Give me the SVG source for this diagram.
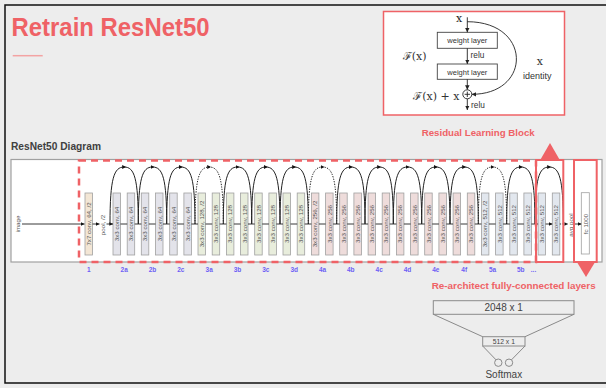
<svg xmlns="http://www.w3.org/2000/svg" width="606" height="388" viewBox="0 0 606 388">
<style>
.sans{font-family:"Liberation Sans",Arial,sans-serif}
.serif{font-family:"DejaVu Serif","Liberation Serif",serif}
.red{fill:#ef6266}
.bx{stroke:#a0a0a0;stroke-width:0.8}
.b1{fill:#f3e6d5}.b2{fill:#e3e3ea}.b3{fill:#e8eddc}.b4{fill:#eedcdb}.b5{fill:#e2e7ee}
.bt{font-family:"Liberation Sans",Arial,sans-serif;font-size:6.2px;fill:#555;text-anchor:middle}
.lb{font-family:"Liberation Sans",Arial,sans-serif;font-size:6.5px;font-weight:bold;fill:#6d5ff5;text-anchor:middle}
.ln{stroke:#222;stroke-width:0.9;fill:none}
.arc{stroke:#222;stroke-width:1;fill:none;marker-mid:url(#ahm)}
.dot{stroke-dasharray:1.3 1.3}
.rs{fill:none;stroke:#ef6266}
.gl{stroke:#8a8a8a;stroke-width:1;fill:none}
</style>
<defs>
<marker id="ah" viewBox="0 0 6 6" refX="6" refY="3" markerWidth="3.6" markerHeight="3.6" markerUnits="userSpaceOnUse" orient="auto"><path d="M0,0L6,3L0,6z" fill="#111"/></marker>
<marker id="ahm" viewBox="0 0 6 6" refX="3" refY="3" markerWidth="4" markerHeight="4" markerUnits="userSpaceOnUse" orient="auto"><path d="M0,0L6,3L0,6z" fill="#111"/></marker>
<marker id="ah2" viewBox="0 0 6 6" refX="6" refY="3" markerWidth="4.5" markerHeight="4.5" markerUnits="userSpaceOnUse" orient="auto"><path d="M0,0L6,3L0,6z" fill="#222"/></marker>
</defs>
<rect width="606" height="388" fill="#ededed"/>
<path d="M606 5H5V383H606" fill="none" stroke="#111" stroke-width="1.5"/>

<g id="title">
<text x="11.5" y="36" class="sans red" font-size="25" font-weight="bold" textLength="198" lengthAdjust="spacingAndGlyphs">Retrain ResNet50</text>
<line x1="12.7" y1="55.7" x2="42.7" y2="55.7" stroke="#f3a3a3" stroke-width="1.5"/>
</g>

<g id="residual-block">
<rect x="383.5" y="11.5" width="181" height="103.5" fill="#fff" stroke="#ef6266" stroke-width="1.5"/>
<text x="456" y="22" class="serif" font-size="11" fill="#222">x</text>
<rect x="437.3" y="32.3" width="60" height="16" fill="#fff" stroke="#444" stroke-width="0.9"/>
<text x="467.3" y="43.3" class="sans" font-size="8" fill="#333" text-anchor="middle" textLength="40" lengthAdjust="spacingAndGlyphs">weight layer</text>
<rect x="437.3" y="64" width="60" height="15.3" fill="#fff" stroke="#444" stroke-width="0.9"/>
<text x="467.3" y="74.6" class="sans" font-size="8" fill="#333" text-anchor="middle" textLength="40" lengthAdjust="spacingAndGlyphs">weight layer</text>
<line x1="467.3" y1="17.3" x2="467.3" y2="32.3" class="ln" marker-end="url(#ah2)"/>
<line x1="467.3" y1="48.3" x2="467.3" y2="64" class="ln" marker-end="url(#ah2)"/>
<line x1="467.3" y1="79.3" x2="467.3" y2="89.8" class="ln" marker-end="url(#ah2)"/>
<line x1="467.3" y1="98.8" x2="467.3" y2="110" class="ln" marker-end="url(#ah2)"/>
<path d="M467.3 21.7C532 21.7 532 94.3 471.8 94.3" class="ln" marker-end="url(#ah2)"/>
<circle cx="467.3" cy="94.3" r="4.5" fill="#fff" stroke="#222" stroke-width="0.9"/>
<path d="M464.6 94.3H470M467.3 91.6V97" stroke="#222" stroke-width="0.9"/>
<text x="470.6" y="58" class="sans" font-size="8.3" fill="#333">relu</text>
<text x="471" y="108.3" class="sans" font-size="8.3" fill="#333">relu</text>
<text x="402.7" y="60" class="serif" font-size="11" fill="#333">ℱ(x)</text>
<text x="413.3" y="100" class="serif" font-size="11" fill="#333">ℱ(x) + x</text>
<text x="536.7" y="65" class="serif" font-size="11" fill="#333">x</text>
<text x="523" y="79" class="sans" font-size="9" fill="#333">identity</text>
<text x="421.7" y="135.7" class="sans red" font-size="9.8" font-weight="bold" textLength="113" lengthAdjust="spacingAndGlyphs">Residual Learning Block</text>
</g>

<text x="11" y="150" class="sans" font-size="10.6" font-weight="bold" fill="#404040" textLength="90" lengthAdjust="spacingAndGlyphs">ResNet50 Diagram</text>

<rect x="11" y="159.5" width="591" height="102.5" fill="#fff" stroke="#a0a0a0" stroke-width="1.2"/>

<g id="input"><text class="bt" font-size="5" transform="translate(19.5,224) rotate(-90)">image</text></g>
<g id="conv1"><rect x="85" y="193" width="7.5" height="62" class="bx b1"/><text class="bt" transform="translate(90.9,224) rotate(-90)">7x7 conv, 64, /2</text></g>
<g id="pool"><text class="bt" font-size="5.5" transform="translate(104.8,225) rotate(-90)">pool, /2</text></g>

<g id="layer2">
<g id="c0"><rect x="113" y="193" width="7.5" height="62" class="bx b2"/><text class="bt" transform="translate(119,224) rotate(-90)">3x3 conv, 64</text></g>
<g id="c1"><rect x="127.2" y="193" width="7.5" height="62" class="bx b2"/><text class="bt" transform="translate(133.2,224) rotate(-90)">3x3 conv, 64</text></g>
<g id="c2"><rect x="141.3" y="193" width="7.5" height="62" class="bx b2"/><text class="bt" transform="translate(147.3,224) rotate(-90)">3x3 conv, 64</text></g>
<g id="c3"><rect x="155.5" y="193" width="7.5" height="62" class="bx b2"/><text class="bt" transform="translate(161.5,224) rotate(-90)">3x3 conv, 64</text></g>
<g id="c4"><rect x="169.7" y="193" width="7.5" height="62" class="bx b2"/><text class="bt" transform="translate(175.7,224) rotate(-90)">3x3 conv, 64</text></g>
<g id="c5"><rect x="183.9" y="193" width="7.5" height="62" class="bx b2"/><text class="bt" transform="translate(189.9,224) rotate(-90)">3x3 conv, 64</text></g>
</g>
<g id="layer3">
<g id="c6"><rect x="198" y="193" width="7.5" height="62" class="bx b3"/><text class="bt" transform="translate(204,224) rotate(-90)">3x3 conv, 128, /2</text></g>
<g id="c7"><rect x="212.2" y="193" width="7.5" height="62" class="bx b3"/><text class="bt" transform="translate(218.2,224) rotate(-90)">3x3 conv, 128</text></g>
<g id="c8"><rect x="226.4" y="193" width="7.5" height="62" class="bx b3"/><text class="bt" transform="translate(232.4,224) rotate(-90)">3x3 conv, 128</text></g>
<g id="c9"><rect x="240.5" y="193" width="7.5" height="62" class="bx b3"/><text class="bt" transform="translate(246.5,224) rotate(-90)">3x3 conv, 128</text></g>
<g id="c10"><rect x="254.7" y="193" width="7.5" height="62" class="bx b3"/><text class="bt" transform="translate(260.7,224) rotate(-90)">3x3 conv, 128</text></g>
<g id="c11"><rect x="268.9" y="193" width="7.5" height="62" class="bx b3"/><text class="bt" transform="translate(274.9,224) rotate(-90)">3x3 conv, 128</text></g>
<g id="c12"><rect x="283" y="193" width="7.5" height="62" class="bx b3"/><text class="bt" transform="translate(289,224) rotate(-90)">3x3 conv, 128</text></g>
<g id="c13"><rect x="297.2" y="193" width="7.5" height="62" class="bx b3"/><text class="bt" transform="translate(303.2,224) rotate(-90)">3x3 conv, 128</text></g>
</g>
<g id="layer4">
<g id="c14"><rect x="311.4" y="193" width="7.5" height="62" class="bx b4"/><text class="bt" transform="translate(317.4,224) rotate(-90)">3x3 conv, 256, /2</text></g>
<g id="c15"><rect x="325.6" y="193" width="7.5" height="62" class="bx b4"/><text class="bt" transform="translate(331.6,224) rotate(-90)">3x3 conv, 256</text></g>
<g id="c16"><rect x="339.7" y="193" width="7.5" height="62" class="bx b4"/><text class="bt" transform="translate(345.7,224) rotate(-90)">3x3 conv, 256</text></g>
<g id="c17"><rect x="353.9" y="193" width="7.5" height="62" class="bx b4"/><text class="bt" transform="translate(359.9,224) rotate(-90)">3x3 conv, 256</text></g>
<g id="c18"><rect x="368.1" y="193" width="7.5" height="62" class="bx b4"/><text class="bt" transform="translate(374.1,224) rotate(-90)">3x3 conv, 256</text></g>
<g id="c19"><rect x="382.2" y="193" width="7.5" height="62" class="bx b4"/><text class="bt" transform="translate(388.2,224) rotate(-90)">3x3 conv, 256</text></g>
<g id="c20"><rect x="396.4" y="193" width="7.5" height="62" class="bx b4"/><text class="bt" transform="translate(402.4,224) rotate(-90)">3x3 conv, 256</text></g>
<g id="c21"><rect x="410.6" y="193" width="7.5" height="62" class="bx b4"/><text class="bt" transform="translate(416.6,224) rotate(-90)">3x3 conv, 256</text></g>
<g id="c22"><rect x="424.7" y="193" width="7.5" height="62" class="bx b4"/><text class="bt" transform="translate(430.7,224) rotate(-90)">3x3 conv, 256</text></g>
<g id="c23"><rect x="438.9" y="193" width="7.5" height="62" class="bx b4"/><text class="bt" transform="translate(444.9,224) rotate(-90)">3x3 conv, 256</text></g>
<g id="c24"><rect x="453.1" y="193" width="7.5" height="62" class="bx b4"/><text class="bt" transform="translate(459.1,224) rotate(-90)">3x3 conv, 256</text></g>
<g id="c25"><rect x="467.3" y="193" width="7.5" height="62" class="bx b4"/><text class="bt" transform="translate(473.3,224) rotate(-90)">3x3 conv, 256</text></g>
</g>
<g id="layer5">
<g id="c26"><rect x="481.4" y="193" width="7.5" height="62" class="bx b5"/><text class="bt" transform="translate(487.4,224) rotate(-90)">3x3 conv, 512, /2</text></g>
<g id="c27"><rect x="495.6" y="193" width="7.5" height="62" class="bx b5"/><text class="bt" transform="translate(501.6,224) rotate(-90)">3x3 conv, 512</text></g>
<g id="c28"><rect x="509.8" y="193" width="7.5" height="62" class="bx b5"/><text class="bt" transform="translate(515.8,224) rotate(-90)">3x3 conv, 512</text></g>
<g id="c29"><rect x="523.9" y="193" width="7.5" height="62" class="bx b5"/><text class="bt" transform="translate(529.9,224) rotate(-90)">3x3 conv, 512</text></g>
<g id="c30"><rect x="538.1" y="193" width="7.5" height="62" class="bx b5"/><text class="bt" transform="translate(544.1,224) rotate(-90)">3x3 conv, 512</text></g>
<g id="c31"><rect x="552.3" y="193" width="7.5" height="62" class="bx b5"/><text class="bt" transform="translate(558.3,224) rotate(-90)">3x3 conv, 512</text></g>
</g>
<g id="avgpool"><text class="bt" font-size="5.5" transform="translate(573.3,225) rotate(-90)">avg pool</text></g>
<g id="fc"><rect x="581.3" y="192.7" width="8" height="61.3" fill="#fff" class="bx"/><text class="bt" transform="translate(587.5,224) rotate(-90)">fc 1000</text></g>

<g id="connectors">
<path class="ln" marker-end="url(#ah)" d="M22 224H84.5"/>
<path class="ln" marker-end="url(#ah)" d="M92.5 224H99.5"/>
<path class="ln" marker-end="url(#ah)" d="M106.5 224H113"/>
<path class="ln" marker-end="url(#ah)" d="M120.5 224H127.2M134.7 224H141.3M148.8 224H155.5M163 224H169.7M177.2 224H183.9M191.4 224H198M205.5 224H212.2M219.7 224H226.4M233.9 224H240.5M248 224H254.7M262.2 224H268.9M276.4 224H283M290.5 224H297.2M304.7 224H311.4M318.9 224H325.6M333.1 224H339.7M347.2 224H353.9M361.4 224H368.1M375.6 224H382.2M389.7 224H396.4M403.9 224H410.6M418.1 224H424.7M432.2 224H438.9M446.4 224H453.1M460.6 224H467.3M474.8 224H481.4M488.9 224H495.6M503.1 224H509.8M517.3 224H523.9M531.4 224H538.1M545.6 224H552.3"/>
<path class="ln dot" marker-end="url(#ah)" d="M559.8 224H568"/>
<path class="ln" marker-end="url(#ah)" d="M575 224H581.3"/>
<path class="arc" d="M110 224C110 178 114 167 124.2 167C134.3 167 138.3 178 138.3 224"/>
<path class="arc" d="M138.3 224C138.3 178 142.3 167 152.5 167C162.7 167 166.7 178 166.7 224"/>
<path class="arc" d="M166.7 224C166.7 178 170.7 167 180.8 167C191 167 195 178 195 224"/>
<path class="arc dot" d="M195 224C195 178 199 167 209.2 167C219.3 167 223.3 178 223.3 224"/>
<path class="arc" d="M223.3 224C223.3 178 227.3 167 237.5 167C247.7 167 251.7 178 251.7 224"/>
<path class="arc" d="M251.7 224C251.7 178 255.7 167 265.8 167C276 167 280 178 280 224"/>
<path class="arc" d="M280 224C280 178 284 167 294.2 167C304.3 167 308.3 178 308.3 224"/>
<path class="arc dot" d="M308.3 224C308.3 178 312.3 167 322.5 167C332.7 167 336.7 178 336.7 224"/>
<path class="arc" d="M336.7 224C336.7 178 340.7 167 350.8 167C361 167 365 178 365 224"/>
<path class="arc" d="M365 224C365 178 369 167 379.2 167C389.3 167 393.3 178 393.3 224"/>
<path class="arc" d="M393.3 224C393.3 178 397.3 167 407.5 167C417.7 167 421.7 178 421.7 224"/>
<path class="arc" d="M421.7 224C421.7 178 425.7 167 435.8 167C446 167 450 178 450 224"/>
<path class="arc" d="M450 224C450 178 454 167 464.2 167C474.3 167 478.3 178 478.3 224"/>
<path class="arc dot" d="M478.3 224C478.3 178 482.3 167 492.5 167C502.7 167 506.7 178 506.7 224"/>
<path class="arc" d="M506.7 224C506.7 178 510.7 167 520.8 167C531 167 535 178 535 224"/>
<path class="arc" d="M535 224C535 178 539 167 549.2 167C559.3 167 563.3 178 563.3 224"/>
</g>

<g id="stage-labels">
<text class="lb" x="88.7" y="272">1</text>
<text class="lb" x="124.2" y="272">2a</text>
<text class="lb" x="152.5" y="272">2b</text>
<text class="lb" x="180.8" y="272">2c</text>
<text class="lb" x="209.2" y="272">3a</text>
<text class="lb" x="237.5" y="272">3b</text>
<text class="lb" x="265.8" y="272">3c</text>
<text class="lb" x="294.2" y="272">3d</text>
<text class="lb" x="322.5" y="272">4a</text>
<text class="lb" x="350.8" y="272">4b</text>
<text class="lb" x="379.2" y="272">4c</text>
<text class="lb" x="407.5" y="272">4d</text>
<text class="lb" x="435.8" y="272">4e</text>
<text class="lb" x="464.2" y="272">4f</text>
<text class="lb" x="492.5" y="272">5a</text>
<text class="lb" x="520.8" y="272">5b</text>
<text class="lb" x="533.5" y="272" fill="#9a90f2" font-weight="normal">...</text>
</g>

<g id="highlights">
<rect x="79" y="160.5" width="457" height="101.5" class="rs" stroke-width="2.5" stroke-dasharray="7 5"/>
<rect x="536" y="160" width="27.3" height="102" class="rs" stroke-width="2"/>
<rect x="574" y="160" width="22.7" height="102" class="rs" stroke-width="2"/>
<path d="M540.5 159.5H559.5L550 143Z" class="red"/>
<path d="M577.5 263H594.5L586 277Z" class="red"/>
</g>

<g id="fc-layers">
<text x="431.7" y="289.3" class="sans red" font-size="9.8" font-weight="bold" textLength="164" lengthAdjust="spacingAndGlyphs">Re-architect fully-connected layers</text>
<rect x="433.3" y="300.7" width="140.7" height="13.6" fill="#eeeeee" class="gl"/>
<text x="503.7" y="310.8" class="sans" font-size="10" fill="#444" text-anchor="middle">2048 x 1</text>
<path d="M433.3 314.3L482.7 336.7M574 314.3L525 336.7" class="gl"/>
<rect x="482.7" y="336.7" width="42.3" height="9.3" fill="#eeeeee" class="gl"/>
<text x="503.8" y="344.2" class="sans" font-size="6.8" fill="#444" text-anchor="middle">512 x 1</text>
<path d="M482.7 346L496 359.8M525 346L511.5 359.8" class="gl"/>
<circle cx="498.3" cy="362.7" r="3.7" class="gl" stroke="#666"/>
<circle cx="509" cy="362.7" r="3.7" class="gl" stroke="#666"/>
<text x="503.8" y="378.3" class="sans" font-size="10" fill="#444" text-anchor="middle">Softmax</text>
</g>
</svg>
